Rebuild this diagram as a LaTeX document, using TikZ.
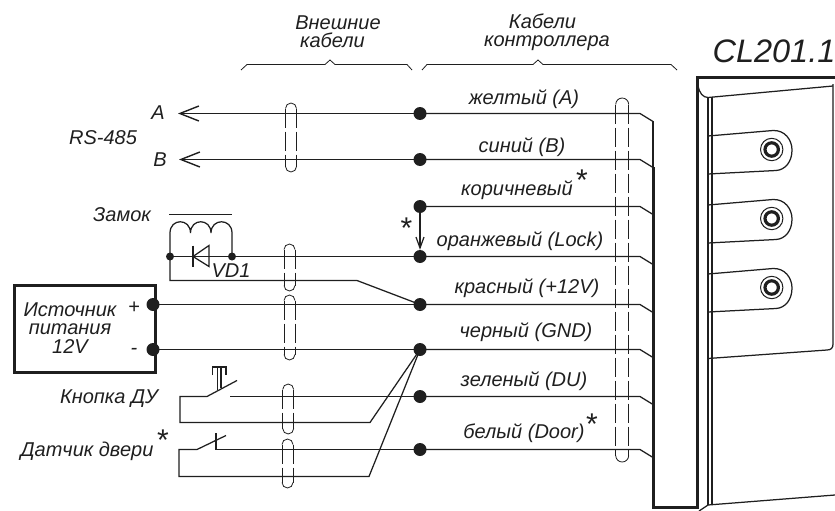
\documentclass[tikz,border=0pt]{standalone}
\usepackage{fontspec}
\setmainfont{Liberation Sans}
\usetikzlibrary{arrows.meta}
\definecolor{ink}{gray}{0.12}
\tikzset{
  wire/.style={line width=1.25pt,line join=miter,draw=ink},
  thick line/.style={line width=3pt,line join=miter,draw=ink},
  thin line/.style={line width=0.8pt,draw=ink},
  bigdot/.style={circle,fill=ink,inner sep=0pt,minimum size=13pt},
  smalldot/.style={circle,fill=ink,inner sep=0pt,minimum size=8pt},
  lbl/.style={font=\fontsize{20}{18.5}\selectfont\itshape,inner sep=0pt,text=ink},
  star/.style={font=\fontsize{30}{30}\selectfont,inner sep=0pt,text=ink},
  tip/.style={-{Straight Barb[length=19pt,width=15pt,line width=1.4pt]}},
  sidedash/.style={line width=0.8pt,dash pattern=on 19pt off 4pt,draw=ink},
  capend/.style={line width=0.8pt,draw=ink},
}
\newcommand{\myoval}[4]{% x1 x2 ytop ybottom
  \pgfmathsetmacro{\rr}{(#2-#1)/2}
  \draw[capend] (#1,#3+\rr) arc[start angle=180,end angle=0,radius=\rr pt];
  \draw[capend] (#1,#4-\rr) arc[start angle=180,end angle=360,radius=\rr pt];
  \draw[sidedash] (#1,#3+\rr) -- (#1,#4-\rr);
  \draw[sidedash] (#2,#3+\rr) -- (#2,#4-\rr);
}
\begin{document}
\begin{tikzpicture}[x=1pt,y=-1pt]
\useasboundingbox (0,0) rectangle (835,511);
% device
\draw[thick line] (835,77) -- (697,77) -- (697,507) -- (653,507) -- (653,167);
\draw[wire] (653,167) -- (653,121);
\draw[wire] (833,86) -- (708,97.5) .. controls (703,97.5) and (699,93) .. (698,85);
\draw[wire] (835,495) -- (708,505) -- (699,511);
\draw[wire] (708,97) -- (708,505);
\draw[wire] (712,97) -- (712,505);
\foreach \o in {0,69,138}{
  \draw[wire] (708,136+\o) -- (773,130.5+\o) .. controls (785,130+\o) and (792,140+\o) .. (792,150+\o) .. controls (792,162+\o) and (785,170+\o) .. (776,170.5+\o) -- (708,174+\o);
  \draw[line width=1pt,draw=ink] (771.7,149.5+\o) circle[radius=11.2pt];
  \draw[line width=3.2pt,draw=ink] (771.7,149.5+\o) circle[radius=6.7pt];
}
\draw[wire] (708,358.5) -- (827,350) .. controls (831,350) and (833,348) .. (833,344) -- (833,84);
% title
\node[font=\fontsize{32.5}{32}\selectfont\itshape,inner sep=0pt,text=ink] (title) at (774,51) {CL201.1};
% headers and braces
\node[lbl,align=center] (hext) at (338,31.5) {Внешние\\кабели\hspace*{11pt}};
\node[lbl,align=center] (hctl) at (547,32) {Кабели\hspace*{9pt}\\контроллера};
\draw[thin line] (241,70) -- (247,64.5) -- (325,64.5) -- (330,60) -- (335,64.5) -- (407,64.5) -- (412,70);
\draw[thin line] (422,70) -- (427,64.5) -- (533,64.5) -- (538,60) -- (543,64.5) -- (671,64.5) -- (677,70);
% dots
\node[bigdot] (dA) at (420,113.5) {};
\node[bigdot] (dB) at (420,159.5) {};
\node[bigdot] (dBr) at (420,206.5) {};
\node[bigdot] (dOr) at (420,256.5) {};
\node[bigdot] (dRe) at (420,304.5) {};
\node[bigdot] (dBl) at (420,349.5) {};
\node[bigdot] (dGr) at (420,396.5) {};
\node[bigdot] (dWh) at (420,449.5) {};
% controller wires
\foreach \n/\y in {dA/113.5,dB/159.5,dBr/206.5,dOr/256.5,dRe/304.5,dBl/349.5,dGr/396.5,dWh/449.5}{
  \draw[wire] (\n.center) -- (640,\y) -- (653,\y+8);
}
% external
\coordinate (eA) at (178,113.5);
\coordinate (eB) at (179,159.5);
\draw[wire,tip] (dA.center) -- (eA);
\draw[wire,tip] (dB.center) -- (eB);
\draw[wire,-{Straight Barb[length=11pt,width=8pt,line width=1.2pt]}] (dBr.center) -- (dOr.north);
% coil
\node[smalldot] (cL) at (170,256.5) {};
\node[smalldot] (cR) at (232,256.5) {};
\draw[thin line] (169,214) -- (232,214);
\draw[wire] (cL.center) -- (170,233) .. controls (170,218) and (190.5,218) .. (190.5,233)
  .. controls (190.5,218) and (211,218) .. (211,233)
  .. controls (211,218) and (232,218) .. (232,233) -- (cR.center);
\draw[wire] (cL.center) -- (cR.center);
\draw[wire] (cR.center) -- (dOr.center);
\draw[wire] (193,245.5) -- (193,266.5);
\draw[wire] (209,245.5) -- (193,256.5) -- (209,266.5) -- cycle;
\node[lbl] (vd) at (231,271) {VD1};
\coordinate (kink1) at (357,280.5);
\draw[wire] (cL.center) -- (170,280.5) -- (kink1) -- (dRe.center);
% power
\node[draw=ink,line width=3pt,minimum width=141pt,minimum height=87pt,inner sep=0pt,anchor=north west] (psu) at (13,284) {};
\node[bigdot] (pp) at (153,304.5) {};
\node[bigdot] (pm) at (153,349.5) {};
\draw[wire] (pp.center) -- (dRe.center);
\draw[wire] (pm.center) -- (dBl.center);
\node[lbl,align=center] (t1) at (70,328) {Источник\\питания\\12V};
\node[lbl] (tp) at (134,308) {+};
\node[lbl] (tm) at (134,351) {-};
% button
\draw[wire] (237,380.5) -- (207,396.5) -- (180,396.5) -- (180,422.5) -- (370,422.5) -- (dBl.center);
\draw[wire] (230,396.5) -- (dGr.center);
\draw[wire] (212.5,375) -- (212.5,367) -- (226,367) -- (226,375);
\draw[wire] (217.3,367) -- (217.3,390);
\draw[wire] (221,367) -- (221,388);
% door
\draw[wire] (226,435.5) -- (197,449.5) -- (179,449.5) -- (179,476.5) -- (369,476.5) -- (dBl.center);
\draw[wire] (216,433) -- (216,449.5) -- (dWh.center);
% labels
\node[lbl] at (158,113) {A};
\node[lbl] at (160,160) {B};
\node[lbl] at (103,138) {RS-485};
\node[lbl] at (122,215) {Замок};
\node[lbl] at (109,399) {Кнопка ДУ};
\node[lbl] at (87,451) {Датчик двери};
\node[star] at (163,440) {*};
\node[lbl] at (524,99) {желтый (A)};
\node[lbl] at (522,147) {синий (B)};
\node[lbl] at (517,190) {коричневый};
\node[star] at (582,180) {*};
\node[star] at (406.5,228) {*};
\node[lbl] at (520,241) {оранжевый (Lock)};
\node[lbl] at (527,288) {красный (+12V)};
\node[lbl] at (526,332) {черный (GND)};
\node[lbl] at (524,381) {зеленый (DU)};
\node[lbl] at (524,433) {белый (Door)};
\node[star] at (592,424) {*};
% cable marks
\myoval{285.5}{296.5}{103}{172}
\myoval{284}{295}{244}{291}
\myoval{284}{295}{295}{360}
\myoval{282.7}{293.7}{384}{434}
\myoval{282}{293}{439}{488}
\myoval{615.7}{628.7}{98}{462}
\end{tikzpicture}
\end{document}
